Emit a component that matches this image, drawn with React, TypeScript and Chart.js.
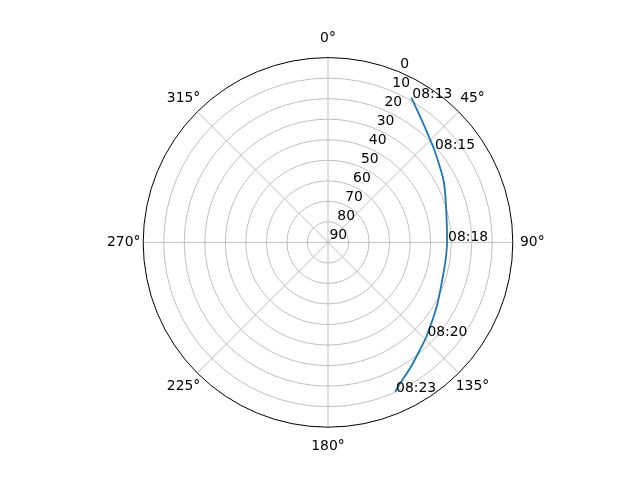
import React, { useEffect, useRef } from "react";
import { Chart, registerables } from "chart.js";

Chart.register(...registerables);

// Satellite pass: azimuth (deg, clockwise from north) and elevation (deg)
const azimuths = [29.9, 37.5, 48.6, 53.9, 61.1, 69.9, 89.3, 98.6, 109.8, 120.6, 133.7, 139.5, 146.9, 152.9, 155.8];
const elevations = [8.6, 15.0, 21.2, 23.5, 25.9, 29.0, 32.0, 32.1, 31.2, 28.5, 23.7, 21.1, 16.8, 12.9, 10.3];
const timeLabels = ["08:13", "", "08:15", "", "", "", "08:18", "", "", "", "08:20", "", "", "", "08:23"];

const thetaTicks = [0, 45, 90, 135, 180, 225, 270, 315];
const thetaTickLabels = ["0°", "45°", "90°", "135°", "180°", "225°", "270°", "315°"];
const elevationTicks = [0, 10, 20, 30, 40, 50, 60, 70, 80, 90];

const FONT = '13.9px "DejaVu Sans", sans-serif';
const toRad = (d: number) => (d * Math.PI) / 180;

export default function App() {
  const canvasRef = useRef<HTMLCanvasElement | null>(null);

  useEffect(() => {
    const canvas = canvasRef.current;
    if (!canvas) return;

    const points = azimuths.map((az, i) => {
      const r = 90 - elevations[i];
      return { x: r * Math.sin(toRad(az)), y: r * Math.cos(toRad(az)) };
    });

    const polarPlugin = {
      id: "polarGrid",
      beforeDatasetsDraw(chart: any) {
        const { ctx, scales } = chart;
        const xs = scales.x;
        const ys = scales.y;
        const cx = xs.getPixelForValue(0);
        const cy = ys.getPixelForValue(0);
        const rad = (d: number) => xs.getPixelForValue(d) - cx;
        ctx.save();
        // rings
        ctx.strokeStyle = "#b0b0b0";
        ctx.lineWidth = 0.8;
        elevationTicks.forEach((el) => {
          const d = 90 - el;
          if (d <= 0 || d >= 90) return;
          ctx.beginPath();
          ctx.arc(cx, cy, rad(d), 0, Math.PI * 2);
          ctx.stroke();
        });
        // spokes
        thetaTicks.forEach((t) => {
          const R = rad(90);
          ctx.beginPath();
          ctx.moveTo(cx, cy);
          ctx.lineTo(cx + R * Math.sin(toRad(t)), cy - R * Math.cos(toRad(t)));
          ctx.stroke();
        });
        ctx.restore();
      },
      afterDatasetsDraw(chart: any) {
        const { ctx, scales } = chart;
        const xs = scales.x;
        const ys = scales.y;
        const cx = xs.getPixelForValue(0);
        const cy = ys.getPixelForValue(0);
        const rad = (d: number) => xs.getPixelForValue(d) - cx;
        const R = rad(90);
        ctx.save();
        // outer spine
        ctx.strokeStyle = "#000";
        ctx.lineWidth = 1;
        ctx.beginPath();
        ctx.arc(cx, cy, R, 0, Math.PI * 2);
        ctx.stroke();

        ctx.fillStyle = "#000";
        ctx.font = FONT;
        // theta labels
        ctx.textAlign = "center";
        ctx.textBaseline = "middle";
        thetaTicks.forEach((t, i) => {
          const d = R + 19.5;
          ctx.fillText(
            thetaTickLabels[i],
            cx + d * Math.sin(toRad(t)),
            cy - d * Math.cos(toRad(t))
          );
        });
        // radial labels at 22.5°
        ctx.textAlign = "left";
        ctx.textBaseline = "bottom";
        elevationTicks.forEach((el) => {
          const d = rad(90 - el);
          ctx.fillText(
            String(el),
            cx + d * Math.sin(toRad(22.5)) + 1.5,
            cy - d * Math.cos(toRad(22.5))
          );
        });
        // time annotations
        ctx.textAlign = "left";
        ctx.textBaseline = "alphabetic";
        points.forEach((p, i) => {
          if (!timeLabels[i]) return;
          ctx.fillText(timeLabels[i], xs.getPixelForValue(p.x) + 1, ys.getPixelForValue(p.y));
        });
        ctx.restore();
      },
    };

    const chart = new Chart(canvas, {
      type: "scatter",
      data: {
        datasets: [
          {
            data: points,
            showLine: true,
            borderColor: "#1f77b4",
            backgroundColor: "#1f77b4",
            borderWidth: 1.8,
            pointRadius: 0,
            tension: 0.2,
            fill: false,
          },
        ],
      },
      options: {
        responsive: false,
        animation: false,
        devicePixelRatio: 1,
        layout: { padding: { left: 143.2, right: 127.2, top: 57.6, bottom: 52.8 } },
        plugins: { legend: { display: false }, tooltip: { enabled: false } },
        scales: {
          x: { type: "linear", min: -90, max: 90, display: false },
          y: { type: "linear", min: -90, max: 90, display: false },
        },
      },
      plugins: [polarPlugin],
    });

    return () => chart.destroy();
  }, []);

  return (
    <div style={{ position: "fixed", left: 0, top: 0, width: 640, height: 480, background: "#fff" }}>
      <canvas ref={canvasRef} width={640} height={480} />
    </div>
  );
}
